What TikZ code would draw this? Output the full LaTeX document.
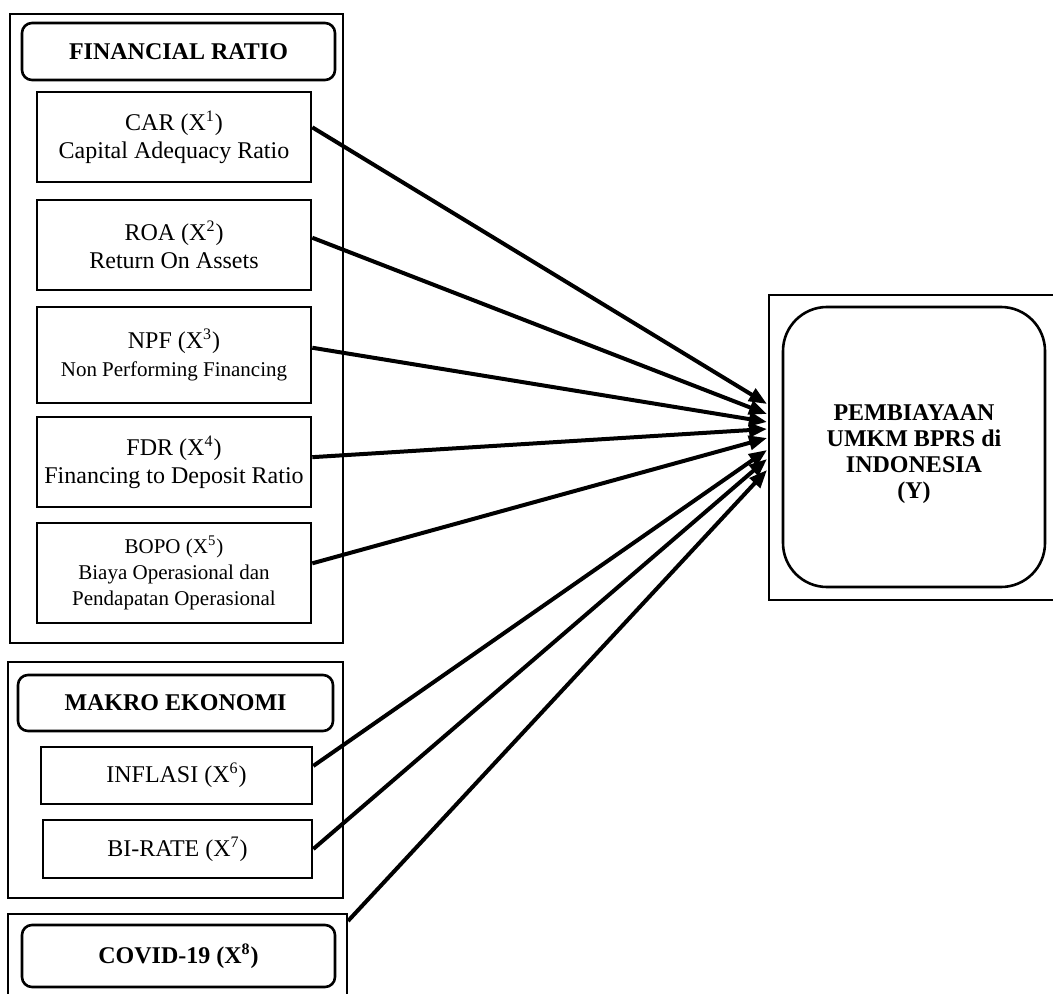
\documentclass[tikz,border=0pt]{standalone}
\usepackage{fontspec}
\setmainfont{Liberation Serif}
\usetikzlibrary{arrows.meta}

\tikzset{
    varbox/.style={draw, line width=1.3pt, align=center, inner sep=2pt,
        font=\fontsize{12}{14}\selectfont},
    headbox/.style={draw, line width=1.3pt, rounded corners=5pt, align=center,
        font=\bfseries\fontsize{12}{14}\selectfont},
    grpbox/.style={line width=1.3pt},
    link/.style={line width=2pt, -{Triangle[length=9pt,width=7pt]}}
}
\newcommand{\smalltxt}{\fontsize{10.5}{13}\selectfont}

\begin{document}
\begin{tikzpicture}[x=0.5pt, y=-0.5pt]
    \useasboundingbox (0,0) rectangle (1053,994);
    \clip (0,0) rectangle (1053,994);

    % Financial ratio group
    \draw[grpbox] (10,14) rectangle (343,643);
    \node[headbox, minimum width=156.5pt, minimum height=28.5pt] (frhead) at (178.5,51.5) {FINANCIAL RATIO};
    \node[varbox, minimum width=137pt, minimum height=45pt] (car) at (174,137) {CAR (X\textsuperscript{1})\\Capital Adequacy Ratio};
    \node[varbox, minimum width=137pt, minimum height=45pt] (roa) at (174,245) {ROA (X\textsuperscript{2})\\Return On Assets};
    \node[varbox, minimum width=137pt, minimum height=48pt] (npf) at (174,355) {NPF (X\textsuperscript{3})\\{\smalltxt Non Performing Financing}};
    \node[varbox, minimum width=137pt, minimum height=45pt] (fdr) at (174,462) {FDR (X\textsuperscript{4})\\Financing to Deposit Ratio};
    \node[varbox, minimum width=137pt, minimum height=50pt, font=\fontsize{10.5}{13}\selectfont] (bopo) at (174,573) {BOPO (X\textsuperscript{5})\\Biaya Operasional dan\\Pendapatan Operasional};

    % Makro ekonomi group
    \draw[grpbox] (8,662) rectangle (343,898);
    \node[headbox, minimum width=157.5pt, minimum height=28pt] (mkhead) at (175.5,703) {MAKRO EKONOMI};
    \node[varbox, minimum width=135.5pt, minimum height=28.5pt] (infl) at (176.5,775.5) {INFLASI (X\textsuperscript{6})};
    \node[varbox, minimum width=134.5pt, minimum height=29pt] (bir) at (177.5,849) {BI-RATE (X\textsuperscript{7})};

    % Covid group
    \draw[grpbox] (8,1000) -- (8,914) -- (347,914) -- (347,1000);
    \coordinate (cvcorner) at (348,921);
    \node[headbox, minimum width=156.5pt, minimum height=31pt] (covid) at (178.5,956) {COVID-19 (X\textsuperscript{8})};

    % Dependent variable
    \draw[line width=1pt] (1060,295) -- (769,295) -- (769,600) -- (1060,600);
    \node[draw, line width=1.3pt, rounded corners=22pt, minimum width=131pt, minimum height=140pt] (ybox) at (914,447) {};
    \node[align=center, font=\bfseries\fontsize{12}{13}\selectfont] (ytext) at (914,454)
        {PEMBIAYAAN\\UMKM BPRS di\\INDONESIA\\(Y)};

    % arrow tips
    \foreach \i/\yy in {1/404, 2/414, 3/422, 4/429, 5/438, 6/450, 7/459, 8/470}
        \coordinate (tip\i) at (767,\yy);

    \foreach \src/\i in {car.4/1, roa.3/2, npf.3/3, fdr.2/4, bopo.4/5, infl.4/6, bir.east/7, cvcorner/8}
        \draw[link] (\src) -- (tip\i);
\end{tikzpicture}
\end{document}
